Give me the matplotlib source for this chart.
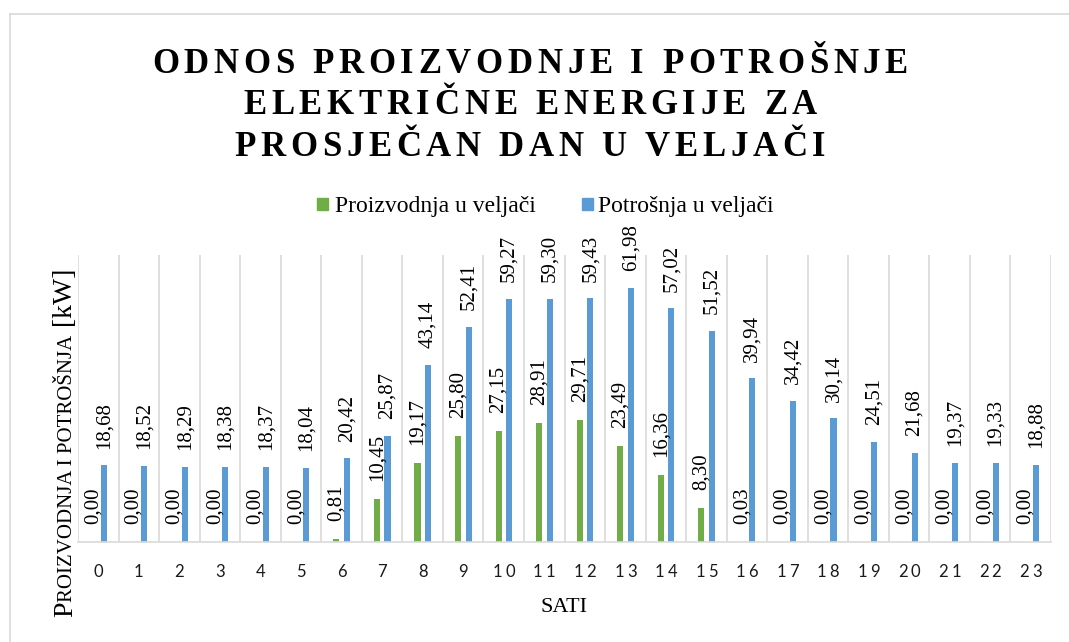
import numpy as np
import matplotlib
matplotlib.use("Agg")
import matplotlib.pyplot as plt
from matplotlib.font_manager import FontProperties, findfont, get_font
from matplotlib.patches import Rectangle
from matplotlib.lines import Line2D

# ---------------- data ----------------
hours = list(range(24))
proizvodnja = [0.00, 0.00, 0.00, 0.00, 0.00, 0.00, 0.81, 10.45, 19.17, 25.80, 27.15, 28.91,
               29.71, 23.49, 16.36, 8.30, 0.03, 0.00, 0.00, 0.00, 0.00, 0.00, 0.00, 0.00]
potrosnja = [18.68, 18.52, 18.29, 18.38, 18.37, 18.04, 20.42, 25.87, 43.14, 52.41, 59.27, 59.30,
             59.43, 61.98, 57.02, 51.52, 39.94, 34.42, 30.14, 24.51, 21.68, 19.37, 19.33, 18.88]
title_lines = ["ODNOS PROIZVODNJE I POTROŠNJE", "ELEKTRIČNE ENERGIJE ZA", "PROSJEČAN DAN U VELJAČI"]
series_names = ["Proizvodnja u veljači", "Potrošnja u veljači"]
x_title = "SATI"
y_title_parts = [("P", 20), ("ROIZVODNJA I POTROŠNJA", 15), (" [kW]", 20)]
tick_labels = [str(h) for h in hours]

# ---------------- style ----------------
W, H, DPI = 1069, 642, 100
GREEN = "#70ad47"
BLUE = "#5b9bd5"
GRID = "#d9d9d9"
SERIF = "Liberation Serif"
SANS = "Lato"

fig = plt.figure(figsize=(W / DPI, H / DPI), dpi=DPI)
fig.patch.set_facecolor("white")


def fx(x):
    return x / W


def fy(y):
    return 1 - y / H


def advances(s, prop, size_pt):
    font = get_font(findfont(prop))
    font.set_size(size_pt, DPI)
    return [font.load_char(ord(c)).linearHoriAdvance / 65536 for c in s]


def spaced_text(s, cx, base_y, prop, size, track, color="black"):
    adv = advances(s, prop, size)
    total = sum(adv) + track * (len(s) - 1)
    x = cx - total / 2
    for c, a in zip(s, adv):
        if c != " ":
            fig.text(fx(x), fy(base_y), c, fontproperties=prop, fontsize=size,
                     ha="left", va="baseline", color=color)
        x += a + track


# chart area border (top and left visible)
fig.add_artist(Line2D([fx(10), fx(W)], [fy(13.5), fy(13.5)], color=GRID, lw=1.2,
                      transform=fig.transFigure))
fig.add_artist(Line2D([fx(10), fx(10)], [fy(13.5), fy(H)], color=GRID, lw=1.2,
                      transform=fig.transFigure))

# ---------------- axes ----------------
left, right, top, bottom = 78, 1051, 255, 542
ax = fig.add_axes([fx(left), fy(bottom), (right - left) / W, (bottom - top) / H])
ax.set_xlim(-0.5, 23.5)
ax.set_ylim(0, 70)
for sp in ["top", "left", "right"]:
    ax.spines[sp].set_visible(False)
ax.spines["bottom"].set_color(GRID)
ax.spines["bottom"].set_linewidth(1.2)
ax.set_yticks([])
ax.set_xticks(hours)
ax.tick_params(axis="x", length=0, labelbottom=False)
ax.set_facecolor("none")

ax.vlines(np.arange(-0.5, 24.0, 1.0), 0, 70, colors=GRID, lw=1.2, zorder=0)

x = np.arange(len(hours))
bw = 0.15
ax.bar(x - 0.125, proizvodnja, bw, color=GREEN, zorder=2)
ax.bar(x + 0.135, potrosnja, bw, color=BLUE, zorder=2)

lab_prop = FontProperties(family=SERIF)
for xi, v in zip(x, proizvodnja):
    ax.annotate(f"{v:.2f}".replace(".", ","), xy=(xi - 0.125, v), xytext=(0, 13),
                textcoords="offset points", rotation=90, ha="center", va="bottom",
                fontproperties=lab_prop, fontsize=15, color="black", zorder=3)
for xi, v in zip(x, potrosnja):
    ax.annotate(f"{v:.2f}".replace(".", ","), xy=(xi + 0.135, v), xytext=(0, 12),
                textcoords="offset points", rotation=90, ha="center", va="bottom",
                fontproperties=lab_prop, fontsize=15, color="black", zorder=3)

# ---------------- tick labels (letter spaced) ----------------
tick_prop = FontProperties(family=SANS)
for xi, lab in zip(x, tick_labels):
    px = ax.transData.transform((xi, 0))[0]
    spaced_text(lab, px, 577, tick_prop, 12, 3.0, color="#1a1a1a")

# ---------------- titles ----------------
title_prop = FontProperties(family=SERIF, weight="bold")
for line, base in zip(title_lines, [73, 114.5, 156]):
    spaced_text(line, 530, base, title_prop, 25, 4.7)

# axis title x
fig.text(fx(564.5), fy(612), x_title, fontproperties=lab_prop, fontsize=16,
         ha="center", va="baseline")

# axis title y (small caps)
yy = 617
for piece, size in y_title_parts:
    fig.text(fx(72), fy(yy), piece, fontproperties=lab_prop, fontsize=size,
             rotation=90, rotation_mode="anchor", ha="left", va="baseline")
    yy -= sum(advances(piece, lab_prop, size))

# ---------------- legend ----------------
for (sx, tx), name, col in zip([(317, 335), (582, 598)], series_names, [GREEN, BLUE]):
    fig.add_artist(Rectangle((fx(sx), fy(210)), 11 / W, 12 / H, color=col,
                             transform=fig.transFigure))
    fig.text(fx(tx), fy(212), name, fontproperties=lab_prop, fontsize=17,
             ha="left", va="baseline")

fig.savefig("out.png", dpi=DPI, facecolor="white")
